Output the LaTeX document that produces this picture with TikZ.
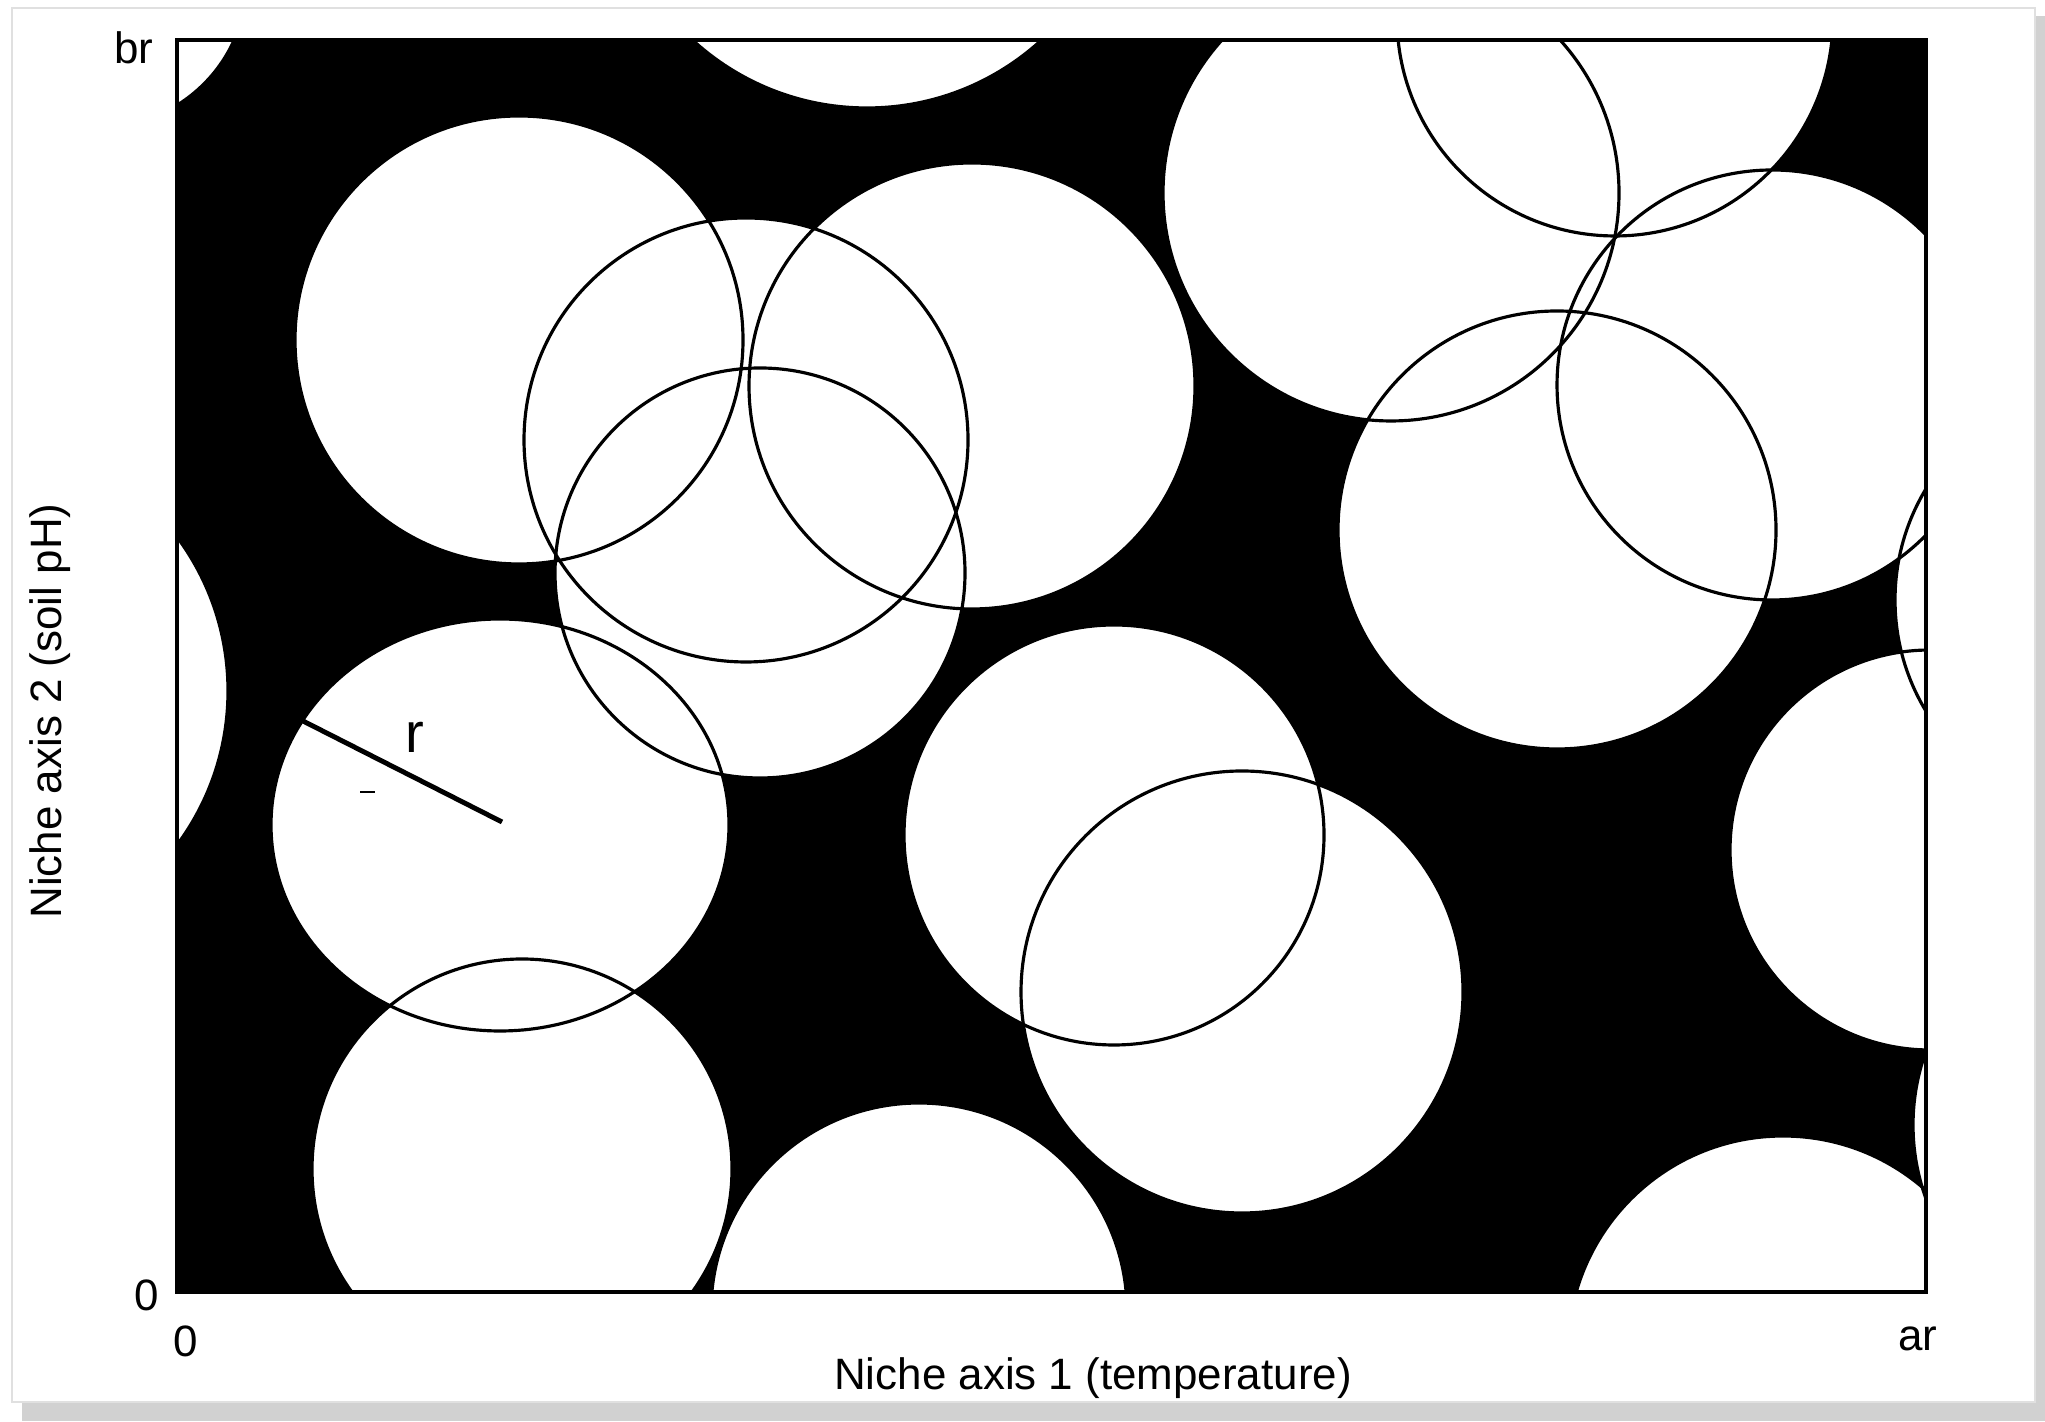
\documentclass[tikz,border=0pt]{standalone}
\usepackage{fontspec}
\setmainfont{Liberation Sans}
\usetikzlibrary{positioning}

\tikzset{
  niche/.style={fill=white},
  rim/.style={line width=0.9pt},
  lab/.style={font=\fontsize{12.5}{15}\selectfont, inner sep=0pt}
}

\begin{document}
\begin{tikzpicture}
                \useasboundingbox (0,0) rectangle (20.45,14.21);
                % card and shadow
                \fill[black!18] (0.22,0) rectangle (20.45,14.05);
                \fill[white, draw=black!12] (0.12,0.19) rectangle (20.35,14.13);
                \begin{scope}
                \clip (1.77,1.29) rectangle (19.26,13.81);
                \fill[black] (1.77,1.29) rectangle (19.26,13.81);
                % white niche disks
                \fill[niche] (1.00,14.41) circle (1.47);
                \fill[niche] (8.67,15.71) circle (2.58);
                \fill[niche] (5.19,10.81) circle (2.24);
                \fill[niche] (7.46,9.81) circle (2.22);
                \fill[niche] (9.72,10.35) circle (2.23);
                \fill[niche] (7.60,8.48) circle (2.05);
                \fill[niche] (5.00,5.96) ellipse (2.29 and 2.06);
                \fill[niche] (5.22,2.52) circle (2.10);
                \fill[niche] (9.19,1.10) circle (2.08);
                \fill[niche] (11.14,5.86) circle (2.10);
                \fill[niche] (12.42,4.29) circle (2.21);
                \fill[niche] (13.91,12.28) circle (2.28);
                \fill[niche] (16.15,14.03) circle (2.18);
                \fill[niche] (17.72,10.36) circle (2.15);
                \fill[niche] (15.57,8.91) circle (2.19);
                \fill[niche] (21.10,8.21) circle (2.15);
                \fill[niche] (19.30,5.71) circle (2.00);
                \fill[niche] (17.83,0.70) circle (2.15);
                \fill[niche] (21.28,2.96) circle (2.15);
                \fill[niche] (-0.30,7.30) circle (2.58);
                % outlines of the disks
                \draw[rim] (1.00,14.41) circle (1.47);
                \draw[rim] (8.67,15.71) circle (2.58);
                \draw[rim] (5.19,10.81) circle (2.24);
                \draw[rim] (7.46,9.81) circle (2.22);
                \draw[rim] (9.72,10.35) circle (2.23);
                \draw[rim] (7.60,8.48) circle (2.05);
                \draw[rim] (5.00,5.96) ellipse (2.29 and 2.06);
                \draw[rim] (5.22,2.52) circle (2.10);
                \draw[rim] (9.19,1.10) circle (2.08);
                \draw[rim] (11.14,5.86) circle (2.10);
                \draw[rim] (12.42,4.29) circle (2.21);
                \draw[rim] (13.91,12.28) circle (2.28);
                \draw[rim] (16.15,14.03) circle (2.18);
                \draw[rim] (17.72,10.36) circle (2.15);
                \draw[rim] (15.57,8.91) circle (2.19);
                \draw[rim] (21.10,8.21) circle (2.15);
                \draw[rim] (19.30,5.71) circle (2.00);
                \draw[rim] (17.83,0.70) circle (2.15);
                \draw[rim] (21.28,2.96) circle (2.15);
                \draw[rim] (-0.30,7.30) circle (2.58);
                \end{scope}
                % frame
                \draw[line width=1.2pt] (1.77,1.29) rectangle (19.26,13.81);
                % radius r
                \coordinate (centre) at (5.02,5.99);
                \coordinate (edge) at (3.03,7.00);
                \draw[line width=1.4pt] (edge) -- (centre);
                \node[inner sep=0pt, font=\fontsize{16}{18}\selectfont] (rlab) at (4.15,6.84) {r};
                \draw[line width=0.6pt] (3.60,6.29) -- (3.75,6.29);
                % axis labels
                \node[lab] (br) at (1.34,13.73) {br};
                \node[lab] (yzero) at (1.47,1.26) {0};
                \node[lab] (xzero) at (1.86,0.80) {0};
                \node[lab] (ar) at (19.18,0.82) {ar};
                \node[lab] (xtitle) at (10.93,0.43) {Niche axis 1 (temperature)};
                \node[lab, rotate=90] (ytitle) at (0.50,7.10) {Niche axis 2 (soil pH)};
            \end{tikzpicture}
\end{document}
